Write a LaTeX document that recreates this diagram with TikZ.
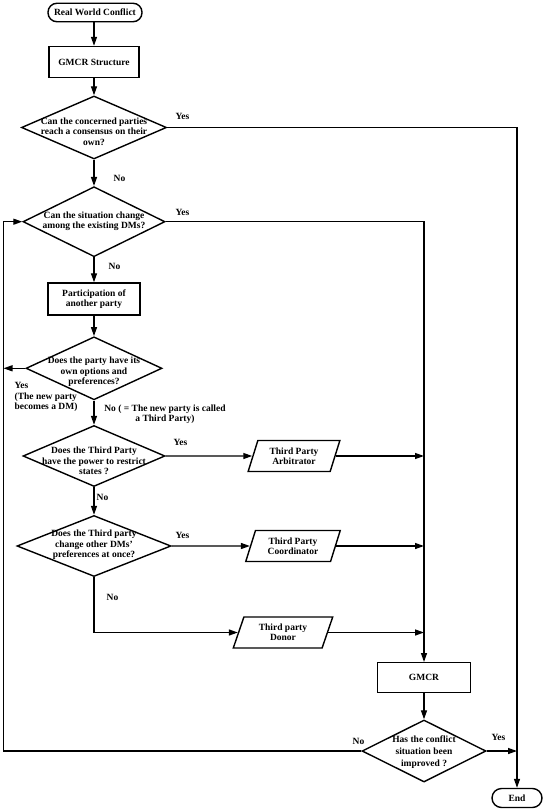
\documentclass[tikz,border=0pt]{standalone}
\usepackage{fontspec}
\setmainfont{Liberation Serif}
\usetikzlibrary{shapes.geometric,arrows.meta}
\begin{document}
\begin{tikzpicture}[x=1pt,y=-1pt,line width=1.3pt,
  every node/.style={font=\bfseries\fontsize{9.5}{10.4}\selectfont,inner sep=0pt},
  box/.style={draw,rectangle,line width=1.4pt,align=center},
  term/.style={draw,rectangle,rounded corners=9pt,line width=1.4pt,align=center},
  dia/.style={draw,diamond,line width=1.4pt},
  para/.style={draw,trapezium,trapezium left angle=69,trapezium right angle=111,
    trapezium stretches=true,line width=1.4pt,align=center},
  txt/.style={align=center},
  lbl/.style={anchor=west,align=left},
  arr/.style={-{Triangle[length=9pt,width=6pt]}}]
\useasboundingbox (0,0) rectangle (548,810);
\coordinate (fb) at (3.5,0);
% nodes
\node[term,minimum width=94pt,minimum height=18.5pt] (rwc) at (95,12.5) {Real World Conflict};
\node[box,minimum width=90pt,minimum height=31pt] (gmcrs) at (94,62) {GMCR Structure};
\node[dia,minimum width=145pt,minimum height=63pt] (d1) at (94,127.5) {};
\node[txt] (t1) at (94,131.5) {Can the concerned parties\\reach a consensus on their\\own?};
\node[dia,minimum width=142pt,minimum height=70pt] (d2) at (94,221.7) {};
\node[txt] (t2) at (94,221) {Can the situation change\\among the existing DMs?};
\node[box,minimum width=92pt,minimum height=32pt] (part) at (94,299) {Participation of\\another party};
\node[dia,minimum width=136pt,minimum height=63pt] (d3) at (94,368.3) {};
\node[txt] (t3) at (94,372) {Does the party have its\\own options and\\preferences?};
\node[dia,minimum width=142pt,minimum height=61pt] (d4) at (94,456) {};
\node[txt] (t4) at (94,461) {Does the Third Party\\have the power to restrict\\states ?};
\node[para,minimum width=92pt,minimum height=31pt] (arb) at (294,456) {Third Party\\Arbitrator};
\node[dia,minimum width=154pt,minimum height=61pt] (d5) at (94,546) {};
\node[txt] (t5) at (94,545) {Does the Third party\\change other DMs’\\preferences at once?};
\node[para,minimum width=95pt,minimum height=31pt] (coord) at (293,546) {Third Party\\Coordinator};
\node[para,minimum width=100pt,minimum height=31pt] (donor) at (283,632.5) {Third party\\Donor};
\node[box,minimum width=93pt,minimum height=30pt] (gmcr) at (424,677.7) {GMCR};
\node[dia,minimum width=124pt,minimum height=62pt] (d6) at (424,751) {};
\node[txt,font=\bfseries\fontsize{9.5}{12}\selectfont] (t6) at (424,752) {Has the conflict\\situation been\\improved ?};
\node[term,minimum width=50pt,minimum height=19pt,rounded corners=9.5pt] (end) at (517,798) {End};
% labels
\node[lbl] (y1) at (175,116) {Yes};
\node[lbl] (n1) at (113,178.5) {No};
\node[lbl] (y2) at (175,212) {Yes};
\node[lbl] (n2) at (108,266.5) {No};
\node[lbl] (y3) at (14,397) {Yes\\(The new party\\becomes a DM)};
\node[txt] (n3) at (165,414) {No ( = The new party is called\\a Third Party)};
\node[lbl] (y4) at (173,442.5) {Yes};
\node[lbl] (n4) at (96,497) {No};
\node[lbl] (y5) at (175,535) {Yes};
\node[lbl] (n5) at (106,597) {No};
\node[lbl] (n6) at (352,741) {No};
\node[lbl] (y6) at (491,737.5) {Yes};
% connectors
\draw[arr] (rwc.south -| gmcrs.north) -- (gmcrs.north);
\draw[arr] (gmcrs) -- (d1);
\draw[arr] (d1.east) -| (end.north);
\draw[arr] (d1) -- (d2);
\draw[arr] (d2.east) -| (gmcr.north);
\draw[arr] (d2) -- (part);
\draw[arr] (part) -- (d3);
\draw[arr] (d3.west) -- (d3.west -| fb);
\draw[arr] (d3) -- (d4);
\draw[arr] (d4.east) -- (arb.west);
\draw[arr] (arb.east) -- (arb.east -| gmcr.north);
\draw[arr] (d4) -- (d5);
\draw[arr] (d5.east) -- (coord.west);
\draw[arr] (coord.east) -- (coord.east -| gmcr.north);
\draw[arr] (d5.south) |- (donor.west);
\draw[arr] (donor.east) -- (donor.east -| gmcr.north);
\draw[arr] (gmcr) -- (d6);
\draw[arr] (d6.east) -- (d6.east -| end.north);
\draw[arr] (d6.west) -- (d6.west -| fb) |- (d2.west);
\end{tikzpicture}
\end{document}
